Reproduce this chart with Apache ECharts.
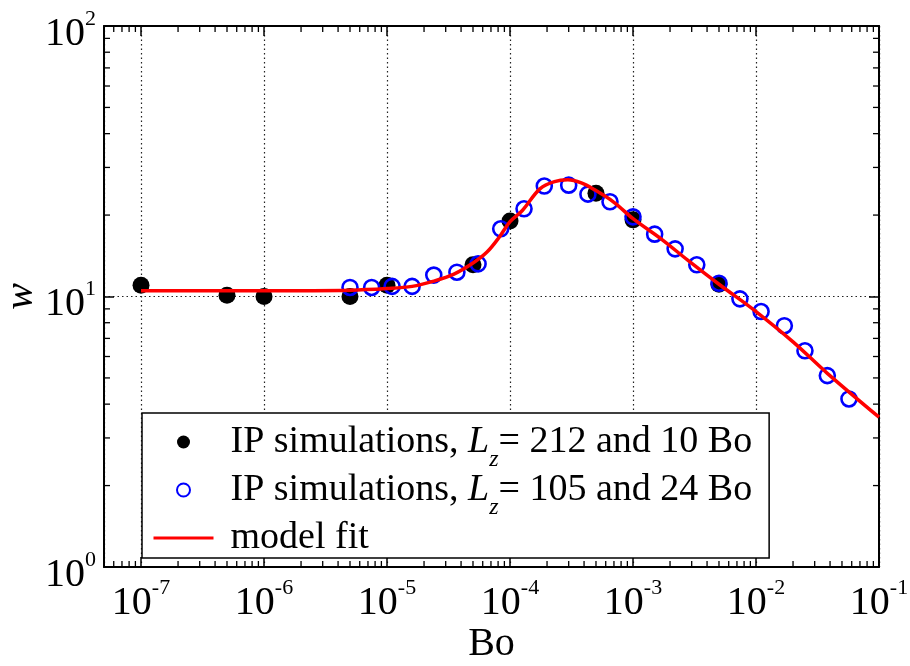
<!DOCTYPE html>
<html>
<head>
<meta charset="utf-8">
<script src="https://cdn.jsdelivr.net/npm/echarts@6/dist/echarts.min.js"></script>
<style>
  html, body { margin: 0; padding: 0; background: #fff; }
  #chart { width: 910px; height: 666px; }
</style>
</head>
<body>
<div id="chart"></div>
<script>
// data
const blackBo = [1e-7, 5e-7, 1e-6, 5e-6, 1e-5, 5e-5, 1e-4, 5e-4, 1e-3, 5e-3];
const blackW = [11.0, 10.1, 10.0, 10.0, 11.0, 13.1, 19.0, 24.1, 19.2, 11.1];

const blueBo = [5e-6, 7.5e-6, 1.1e-5, 1.6e-5, 2.4e-5, 3.7e-5, 5.5e-5, 8.4e-5, 1.3e-4, 1.9e-4,
  3e-4, 4.3e-4, 6.5e-4, 1e-3, 1.5e-3, 2.2e-3, 3.3e-3, 5e-3, 7.4e-3, 1.1e-2, 1.7e-2, 2.5e-2, 3.8e-2, 5.7e-2];
const blueW = [10.8, 10.8, 10.9, 10.9, 12.0, 12.3, 13.2, 17.8, 21.1, 25.6,
  25.8, 23.9, 22.4, 19.7, 17.0, 15.0, 13.1, 11.2, 9.8, 8.8, 7.8, 6.3, 5.1, 4.18];

const fitBo = [1e-7, 1e-6, 5e-6, 1e-5, 1.6e-5, 2.4e-5, 3.5e-5, 5e-5, 6.5e-5, 8.2e-5, 1e-4, 1.26e-4,
  1.75e-4, 2.3e-4, 2.95e-4, 3.8e-4, 4.8e-4, 7e-4, 1e-3, 1.7e-3, 2.8e-3, 5e-3, 1e-2, 2e-2, 3.8e-2, 0.1];
const fitW = [10.5, 10.5, 10.55, 10.7, 10.9, 11.4, 12.1, 13.3, 14.6, 16.6, 18.9, 20.8,
  25.0, 26.6, 27.0, 26.3, 24.9, 22.3, 19.4, 16.3, 13.6, 11.1, 8.8, 6.8, 5.2, 3.58];

const legendNames = [
  'IP simulations, {i|L}{s|z}= 212 and 10 Bo',
  'IP simulations, {i|L}{s|z}= 105 and 24 Bo',
  'model fit'
];

const xMin = 5e-8, xMax = 0.1;
const yMin = 1, yMax = 100;
const xDecades = [1e-8, 1e-7, 1e-6, 1e-5, 1e-4, 1e-3, 1e-2];
const yDecades = [1, 10];
const mantissas = [2, 3, 4, 5, 6, 7, 8, 9];

const xMinor = [];
xDecades.forEach(d => mantissas.forEach(m => {
  const v = d * m;
  if (v > xMin * 1.0001 && v < xMax) xMinor.push([v, yMin]);
}));
const yMinor = [];
yDecades.forEach(d => mantissas.forEach(m => yMinor.push([xMin, d * m])));

const serif = 'Liberation Serif';

function expLabel(v) {
  const e = Math.log10(v);
  const r = Math.round(e);
  if (Math.abs(e - r) > 1e-6) return '';
  return '{b|10}{e|' + r + '}';
}

const labelRich = {
  b: { fontFamily: serif, fontSize: 40, lineHeight: 40, color: '#000' },
  e: { fontFamily: serif, fontSize: 22, lineHeight: 40, height: 1, color: '#000', padding: [0, 0, 30, 0] }
};

const axisLine = { show: true, onZero: false, lineStyle: { color: '#000', width: 2 } };
const majorTick = { show: true, inside: true, length: 10, lineStyle: { color: '#000', width: 1.5 } };
const gridDots = { show: true, lineStyle: { color: '#222', width: 1.2, type: [1.5, 3] } };

const chart = echarts.init(document.getElementById('chart'));
chart.setOption({
  animation: false,
  backgroundColor: '#fff',
  grid: { left: 104, right: 31, top: 26, bottom: 99, containLabel: false, outerBoundsMode: 'none' },
  xAxis: [
    {
      type: 'log', logBase: 10, min: xMin, max: xMax, position: 'bottom',
      name: 'Bo', nameLocation: 'middle', nameGap: 57, nameMoveOverlap: false,
      nameTextStyle: { fontFamily: serif, fontSize: 40, color: '#000' },
      axisLine: axisLine, axisTick: majorTick, splitLine: gridDots,
      axisLabel: { margin: 16, formatter: expLabel, rich: labelRich, showMinLabel: false }
    },
    {
      type: 'log', logBase: 10, min: xMin, max: xMax, position: 'top',
      axisLine: axisLine, axisTick: majorTick, splitLine: { show: false },
      axisLabel: { show: false }
    }
  ],
  yAxis: [
    {
      type: 'log', logBase: 10, min: yMin, max: yMax, interval: 1, position: 'left',
      name: 'w', nameLocation: 'middle', nameGap: 63, nameRotate: 90, nameMoveOverlap: false,
      nameTextStyle: { fontFamily: serif, fontSize: 40, fontStyle: 'italic', color: '#000' },
      axisLine: axisLine, axisTick: majorTick, splitLine: gridDots,
      axisLabel: { margin: 8, formatter: expLabel, rich: labelRich, padding: [16, 0, 0, 0] }
    },
    {
      type: 'log', logBase: 10, min: yMin, max: yMax, interval: 1, position: 'right',
      axisLine: axisLine, axisTick: majorTick, splitLine: { show: false },
      axisLabel: { show: false }
    }
  ],
  legend: {
    orient: 'vertical', left: 142, top: 413,
    backgroundColor: '#fff', borderColor: '#000', borderWidth: 1.5, borderRadius: 0,
    padding: [9, 17, 0, 10],
    itemWidth: 60, itemHeight: 13, itemGap: -2,
    data: [
      { name: legendNames[0] },
      { name: legendNames[1] },
      { name: legendNames[2], itemStyle: { color: 'rgba(0,0,0,0)', borderWidth: 0 }, lineStyle: { width: 3 } }
    ],
    textStyle: {
      fontFamily: serif, fontSize: 38, color: '#000', lineHeight: 40, padding: [0, 0, 0, 12],
      rich: {
        i: { fontFamily: serif, fontSize: 38, fontStyle: 'italic', lineHeight: 40, color: '#000' },
        s: { fontFamily: serif, fontSize: 24, fontStyle: 'italic', lineHeight: 40, height: 1, color: '#000', padding: [36, 0, 0, 0] }
      }
    }
  },
  series: [
    {
      name: legendNames[0], type: 'scatter', symbol: 'circle', symbolSize: 17, z: 3,
      itemStyle: { color: '#000', opacity: 1 },
      data: blackBo.map((x, i) => [x, blackW[i]])
    },
    {
      name: legendNames[1], type: 'scatter', symbol: 'circle', symbolSize: 15, z: 4,
      itemStyle: { color: 'rgba(0,0,0,0)', borderColor: '#0000ff', borderWidth: 2.6, opacity: 1 },
      data: blueBo.map((x, i) => [x, blueW[i]])
    },
    {
      name: legendNames[2], type: 'line', symbol: 'none', smooth: 0.35, z: 5,
      lineStyle: { color: '#ff0000', width: 3.5 },
      itemStyle: { color: '#ff0000' },
      data: fitBo.map((x, i) => [x, fitW[i]])
    },
    {
      type: 'custom', silent: true, z: 6, clip: false,
      data: xMinor,
      renderItem: function (params, api) {
        const v = api.value(0);
        const b = api.coord([v, yMin]);
        const t = api.coord([v, yMax]);
        const st = { stroke: '#000', lineWidth: 1.3 };
        return { type: 'group', children: [
          { type: 'line', shape: { x1: b[0], y1: b[1], x2: b[0], y2: b[1] - 6 }, style: st },
          { type: 'line', shape: { x1: t[0], y1: t[1], x2: t[0], y2: t[1] + 6 }, style: st }
        ] };
      }
    },
    {
      type: 'custom', silent: true, z: 6, clip: false,
      data: yMinor,
      renderItem: function (params, api) {
        const v = api.value(1);
        const l = api.coord([xMin, v]);
        const r = api.coord([xMax, v]);
        const st = { stroke: '#000', lineWidth: 1.3 };
        return { type: 'group', children: [
          { type: 'line', shape: { x1: l[0], y1: l[1], x2: l[0] + 6, y2: l[1] }, style: st },
          { type: 'line', shape: { x1: r[0], y1: r[1], x2: r[0] - 6, y2: r[1] }, style: st }
        ] };
      }
    }
  ]
});
</script>
</body>
</html>
